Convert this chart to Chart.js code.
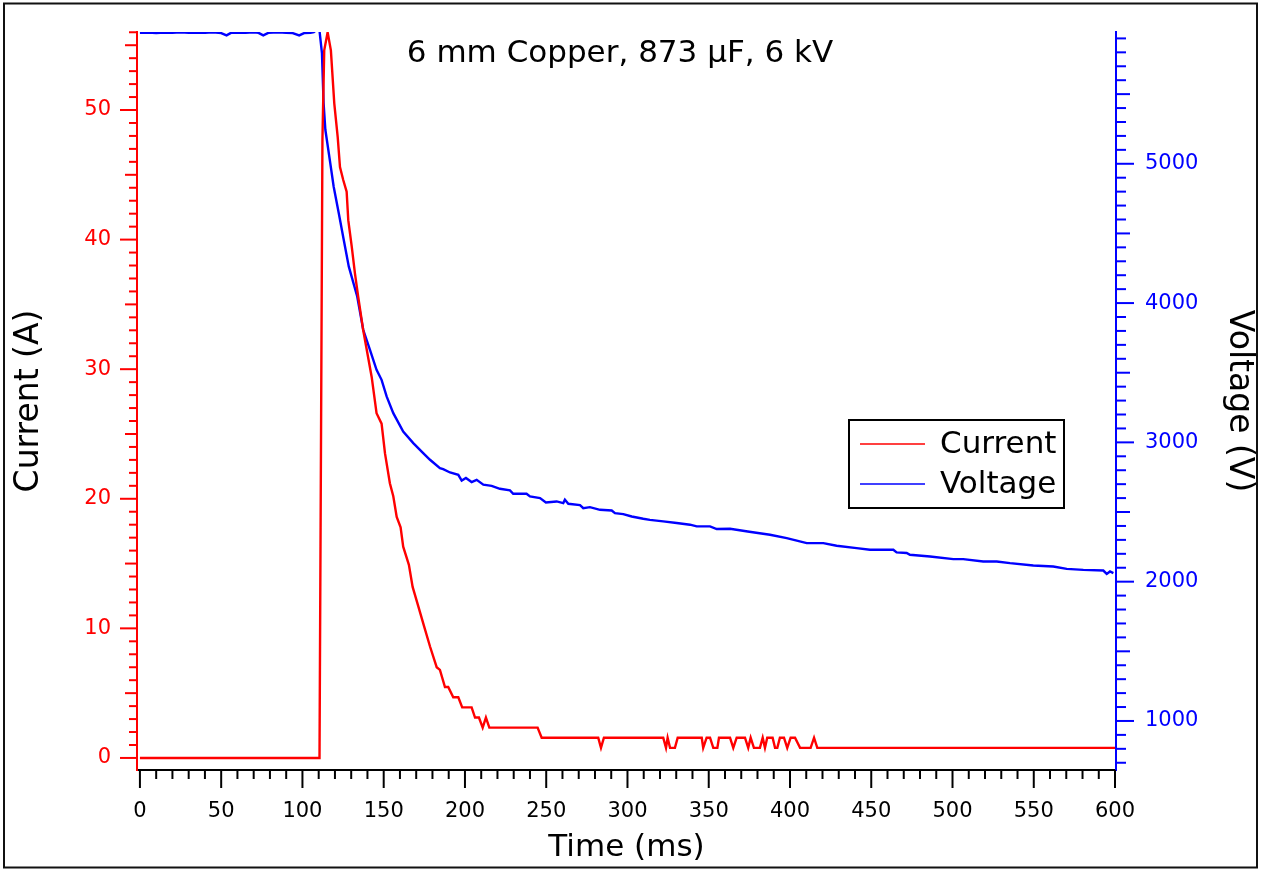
<!DOCTYPE html>
<html>

<head>
    <title>6 mm Copper discharge</title>
    <script src="https://cdn.jsdelivr.net/npm/chart.js"></script>
    <style>
        body { margin: 0; background: #fff; }
        canvas { display: block; }
    </style>
</head>

<body>
    <canvas id="myChart" width="1265" height="869"></canvas>

    <script>
        // current trace (ms, A)
        const currentTime = [0, 110.5, 112.3, 113.4, 115.5, 117.5, 119.6, 121.7, 123.1, 125.1,
            127.2, 128.2, 130.3, 132.3, 134.3, 137.4, 142.6, 145.6, 148.7, 150.8,
            153.8, 155.9, 158.0, 160.4, 162.0, 165.5, 167.8, 171.3, 175.0, 178.5,
            182.6, 184.6, 187.7, 189.7, 192.8, 195.9, 198.3, 204.1, 206.2, 208.6,
            210.9, 212.9, 215.0, 244.7, 247.2, 282.0, 283.7, 285.5, 322.0, 323.7,
            324.7, 326.2, 329.2, 330.9, 345.7, 346.6, 348.7, 350.8, 352.8, 355.3,
            356.3, 363.1, 365.1, 367.2, 372.3, 374.3, 375.8, 377.8, 381.5, 383.2,
            384.6, 386.0, 389.3, 390.8, 392.2, 393.8, 396.3, 398.3, 400.4, 403.1,
            406.2, 412.7, 414.8, 416.8, 600];
        const currentAmps = [0, 0, 47.7, 54.6, 56.0, 54.6, 50.5, 47.9, 45.6, 44.6,
            43.7, 41.5, 39.5, 37.4, 35.6, 33.0, 29.4, 26.6, 25.8, 23.5,
            21.2, 20.2, 18.6, 17.8, 16.3, 14.9, 13.2, 11.7, 10.1, 8.6,
            7.0, 6.8, 5.47, 5.47, 4.68, 4.68, 3.9, 3.9, 3.12, 3.12,
            2.34, 3.12, 2.34, 2.34, 1.56, 1.56, 0.78, 1.56, 1.56, 0.78,
            1.56, 0.78, 0.78, 1.56, 1.56, 0.78, 1.56, 1.56, 0.78, 0.78,
            1.56, 1.56, 0.78, 1.56, 1.56, 0.78, 1.56, 0.78, 0.78, 1.56,
            0.78, 1.56, 1.56, 0.78, 0.78, 1.56, 1.56, 0.78, 1.56, 1.56,
            0.78, 0.78, 1.56, 0.78, 0.78];

        // voltage trace (ms, V)
        const voltageTime = [0, 5, 10, 15, 20, 25, 30, 35, 40, 45,
            50, 53.3, 56, 60, 65, 70, 73, 75.9, 79, 85,
            90, 94, 98, 101, 105, 107, 108.7, 110.5, 112, 113,
            114.1, 117.1, 119.2, 122.3, 125.4, 128.5, 133.7, 137.4, 141.5, 145.6,
            148.7, 151.8, 155.9, 162, 168.2, 174.3, 178.5, 184.6, 186.6, 190.8,
            195.9, 198.0, 200.6, 204.1, 207.2, 211.3, 216.4, 221.5, 227.7, 229.7,
            237.9, 240, 246.2, 249.8, 256.4, 260.5, 261.5, 263.6, 270.8, 272.8,
            276.9, 283.1, 290.3, 292.3, 297.4, 302.6, 309.7, 313.8, 322, 330.3,
            338.5, 342.6, 350.8, 354.9, 363.1, 375, 387.7, 398, 410.3, 420.5,
            428.7, 441, 449.2, 463.6, 465.6, 471.8, 473.8, 486.2, 500.5, 506.6,
            518.9, 527.2, 535.4, 549.7, 562, 570.3, 580.5, 592.8, 594.9, 596.9,
            599];
        const voltageVolts = [5940, 5942, 5938, 5942, 5940, 5944, 5940, 5942, 5940, 5943,
            5938, 5922, 5940, 5942, 5940, 5943, 5940, 5922, 5940, 5943,
            5940, 5938, 5922, 5938, 5940, 5945, 5962, 5955, 5795, 5438,
            5244, 5007, 4837, 4648, 4454, 4263, 4047, 3808, 3665, 3521,
            3449, 3330, 3210, 3078, 2995, 2923, 2875, 2815, 2808, 2784,
            2767, 2726, 2744, 2715, 2731, 2696, 2688, 2667, 2655, 2631,
            2631, 2612, 2600, 2569, 2576, 2564, 2588, 2559, 2550, 2528,
            2535, 2516, 2511, 2492, 2485, 2468, 2452, 2444, 2433, 2421,
            2409, 2397, 2397, 2378, 2380, 2358, 2337, 2313, 2277, 2277,
            2258, 2241, 2229, 2229, 2210, 2206, 2193, 2181, 2162, 2162,
            2145, 2145, 2133, 2116, 2109, 2092, 2085, 2080, 2056, 2073,
            2061];

        // labelled ticks
        const timeTicks = [0, 50, 100, 150, 200, 250, 300, 350, 400, 450, 500, 550, 600];
        const currentTicks = [0, 10, 20, 30, 40, 50];
        const voltageTicks = [1000, 2000, 3000, 4000, 5000];

        const chartTitle = '6 mm Copper, 873 \u00b5F, 6 kV';
        const FONT = '"DejaVu Sans", sans-serif';

        const toPoints = (xs, ys) => xs.map((x, i) => ({ x, y: ys[i] }));
        const useTicks = values => s => { s.ticks = values.map(value => ({ value })); };
        const noPad = s => { s.paddingTop = 0; s.paddingBottom = 0; s.paddingLeft = 0; s.paddingRight = 0; };

        // white page + frame
        const frame = {
            id: 'frame',
            beforeDraw(chart) {
                const ctx = chart.ctx;
                ctx.save();
                ctx.fillStyle = '#fff';
                ctx.fillRect(0, 0, chart.width, chart.height);
                ctx.restore();
            },
            afterDraw(chart) {
                const ctx = chart.ctx;
                ctx.save();
                ctx.strokeStyle = '#111';
                ctx.lineWidth = 2;
                ctx.strokeRect(4, 3.5, 1253, 864);
                ctx.restore();
            }
        };

        // minor / medium / major tick marks on all three axes
        const tickMarks = {
            id: 'tickMarks',
            afterDraw(chart) {
                const { ctx, chartArea: a, scales } = chart;
                const seg = (x1, y1, x2, y2) => {
                    ctx.beginPath();
                    ctx.moveTo(x1, y1);
                    ctx.lineTo(x2, y2);
                    ctx.stroke();
                };
                ctx.save();
                ctx.lineWidth = 2;

                ctx.strokeStyle = '#ff0000';
                for (let v = 0; v <= 56; v++) {
                    const y = scales.y.getPixelForValue(v);
                    const len = v % 10 === 0 ? 17 : v % 5 === 0 ? 12 : 8;
                    seg(a.left, y, a.left - len, y);
                }

                ctx.strokeStyle = '#0000ff';
                for (let v = 700; v <= 5900; v += 100) {
                    const y = scales.y1.getPixelForValue(v);
                    const len = v % 1000 === 0 ? 18 : v % 500 === 0 ? 14 : 10;
                    seg(a.right, y, a.right + len, y);
                }

                ctx.strokeStyle = '#000';
                for (let v = 0; v <= 600; v += 10) {
                    const x = scales.x.getPixelForValue(v);
                    const len = v % 50 === 0 ? 18 : 9;
                    seg(x, a.bottom, x, a.bottom + len);
                }
                ctx.restore();
            }
        };

        // title inside the plot + boxed legend
        const overlay = {
            id: 'overlay',
            afterDraw(chart) {
                const ctx = chart.ctx;
                ctx.save();
                ctx.fillStyle = '#000';
                ctx.font = '31px ' + FONT;
                ctx.textAlign = 'center';
                ctx.textBaseline = 'middle';
                ctx.fillText(chartTitle, 620, 54);

                ctx.fillStyle = '#fff';
                ctx.fillRect(849, 420, 215, 88);
                ctx.strokeStyle = '#000';
                ctx.lineWidth = 2;
                ctx.strokeRect(849, 420, 215, 88);

                const rows = [444, 484];
                chart.data.datasets.forEach((ds, i) => {
                    ctx.strokeStyle = ds.borderColor;
                    ctx.lineWidth = 1.6;
                    ctx.beginPath();
                    ctx.moveTo(860, rows[i]);
                    ctx.lineTo(925, rows[i]);
                    ctx.stroke();
                    ctx.fillStyle = '#000';
                    ctx.textAlign = 'left';
                    ctx.fillText(ds.label, 940, rows[i] + 1);
                });
                ctx.restore();
            }
        };

        const chart = new Chart('myChart', {
            type: 'line',
            data: {
                datasets: [
                    {
                        label: 'Current',
                        data: toPoints(currentTime, currentAmps),
                        yAxisID: 'y',
                        borderColor: '#ff0000',
                        borderWidth: 2.4,
                        pointRadius: 0,
                        tension: 0,
                        fill: false
                    },
                    {
                        label: 'Voltage',
                        data: toPoints(voltageTime, voltageVolts),
                        yAxisID: 'y1',
                        borderColor: '#0000ff',
                        borderWidth: 2.4,
                        pointRadius: 0,
                        tension: 0,
                        fill: false
                    }
                ]
            },
            options: {
                responsive: false,
                animation: false,
                events: [],
                layout: { padding: { top: 32, left: 0, right: 0, bottom: 0 } },
                plugins: {
                    legend: { display: false },
                    tooltip: { enabled: false }
                },
                scales: {
                    x: {
                        type: 'linear',
                        min: -1.8,
                        max: 600.6,
                        grid: { display: false },
                        border: { display: true, color: '#000', width: 2 },
                        afterBuildTicks: useTicks(timeTicks),
                        ticks: {
                            color: '#000',
                            padding: 21,
                            maxRotation: 0,
                            autoSkip: false,
                            callback: v => String(v),
                            font: { family: FONT, size: 21 }
                        },
                        title: {
                            display: true,
                            text: 'Time (ms)',
                            color: '#000',
                            font: { family: FONT, size: 31 },
                            padding: { top: 0, bottom: 2 }
                        },
                        afterFit: s => { s.height = 99; noPad(s); }
                    },
                    y: {
                        position: 'left',
                        min: -0.93,
                        max: 56.02,
                        grid: { display: false },
                        border: { display: true, color: '#ff0000', width: 2 },
                        afterBuildTicks: useTicks(currentTicks),
                        ticks: {
                            color: '#ff0000',
                            padding: 18,
                            autoSkip: false,
                            callback: v => String(v),
                            font: { family: FONT, size: 21 }
                        },
                        title: {
                            display: true,
                            text: 'Current (A)',
                            color: '#000',
                            font: { family: FONT, size: 33 },
                            padding: { top: 10, bottom: 0 }
                        },
                        afterFit: s => { s.width = 137; noPad(s); }
                    },
                    y1: {
                        position: 'right',
                        min: 648,
                        max: 5946,
                        grid: { display: false },
                        border: { display: true, color: '#0000ff', width: 2 },
                        afterBuildTicks: useTicks(voltageTicks),
                        ticks: {
                            color: '#0000ff',
                            padding: 21,
                            autoSkip: false,
                            callback: v => String(v),
                            font: { family: FONT, size: 21 }
                        },
                        title: {
                            display: true,
                            text: 'Voltage (V)',
                            color: '#000',
                            font: { family: FONT, size: 33 },
                            padding: { top: 7, bottom: 0 }
                        },
                        afterFit: s => { s.width = 149; noPad(s); }
                    }
                }
            },
            plugins: [frame, tickMarks, overlay]
        });
    </script>
</body>

</html>
